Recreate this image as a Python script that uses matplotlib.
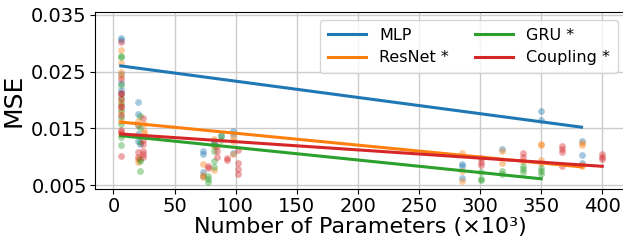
import numpy as np
import matplotlib.pyplot as plt

models = ["MLP", "ResNet *", "GRU *", "Coupling *"]
colors = ["tab:blue", "tab:orange", "tab:green", "tab:red"]

# scatter points (x in thousands of parameters, y = MSE)
mlp_x = [6, 6, 6, 6, 6, 6, 20, 20, 20, 20, 20, 22, 73, 73, 73, 73, 82, 82, 88,
         98, 98, 98, 285, 285, 285, 318, 350, 350, 383, 383, 383]
mlp_y = [0.0310, 0.0306, 0.0245, 0.0229, 0.0218, 0.0212, 0.0196, 0.0175, 0.0155,
         0.0140, 0.0128, 0.0122, 0.0110, 0.0105, 0.0073, 0.0066, 0.0128, 0.0124,
         0.0136, 0.0146, 0.0140, 0.0106, 0.0087, 0.0083, 0.0062, 0.0113, 0.0180,
         0.0164, 0.0127, 0.0103, 0.0088]

resnet_x = [6, 6, 6, 6, 6, 6, 6, 6, 20, 20, 20, 20, 25, 25, 25, 73, 73, 73, 82, 82,
            82, 98, 98, 98, 285, 285, 285, 318, 318, 335, 350, 350, 350, 350,
            383, 383, 383, 383]
resnet_y = [0.0288, 0.0265, 0.0250, 0.0243, 0.0196, 0.0178, 0.0162, 0.0140,
            0.0162, 0.0155, 0.0096, 0.0090, 0.0158, 0.0145, 0.0140, 0.0087,
            0.0068, 0.0064, 0.0131, 0.0118, 0.0077, 0.0134, 0.0128, 0.0105,
            0.0106, 0.0075, 0.0057, 0.0110, 0.0089, 0.0092, 0.0123, 0.0121,
            0.0094, 0.0088, 0.0124, 0.0120, 0.0086, 0.0083]

gru_x = [6, 6, 6, 6, 6, 6, 6, 6, 6, 6, 22, 22, 22, 22, 22, 22, 77, 77, 77, 82, 82,
         82, 82, 88, 88, 301, 301, 301, 318, 318, 335, 335, 335, 350, 350, 350]
gru_y = [0.0278, 0.0275, 0.0226, 0.0204, 0.0193, 0.0183, 0.0170, 0.0157, 0.0134,
         0.0120, 0.0171, 0.0150, 0.0125, 0.0096, 0.0093, 0.0075, 0.0066, 0.0060,
         0.0055, 0.0120, 0.0110, 0.0093, 0.0082, 0.0138, 0.0130, 0.0073, 0.0060,
         0.0058, 0.0074, 0.0069, 0.0084, 0.0078, 0.0073, 0.0080, 0.0075, 0.0070]

coupling_x = [6, 6, 6, 6, 6, 6, 6, 6, 6, 6, 6, 24, 24, 24, 24, 24, 24, 20, 20, 77,
              77, 85, 85, 85, 93, 93, 102, 102, 102, 102, 301, 301, 301, 335, 335,
              367, 367, 367, 367, 400, 400, 400]
coupling_y = [0.0302, 0.0237, 0.0213, 0.0210, 0.0201, 0.0190, 0.0187, 0.0173,
              0.0147, 0.0143, 0.0102, 0.0168, 0.0130, 0.0122, 0.0110, 0.0105,
              0.0100, 0.0108, 0.0100, 0.0083, 0.0080, 0.0118, 0.0110, 0.0100,
              0.0098, 0.0095, 0.0111, 0.0088, 0.0078, 0.0069, 0.0097, 0.0091,
              0.0085, 0.0106, 0.0100, 0.0118, 0.0113, 0.0108, 0.0083, 0.0104,
              0.0099, 0.0096]

# trend line end points
fit_x0 = [6, 6, 6, 6]
fit_x1 = [383, 383, 350, 400]
fit_y0 = [0.0260, 0.0161, 0.0137, 0.0140]
fit_y1 = [0.0152, 0.0082, 0.0061, 0.0083]

xs = [mlp_x, resnet_x, gru_x, coupling_x]
ys = [mlp_y, resnet_y, gru_y, coupling_y]

fig = plt.figure(figsize=(6.23, 2.41), dpi=100)
ax = fig.add_axes([94.5 / 623, 1 - 189 / 241, 531 / 623, 177 / 241])

for i in range(4):
    ax.scatter(xs[i], ys[i], s=24, color=colors[i], alpha=0.4, linewidths=0, zorder=2)
for i in range(4):
    ax.plot([fit_x0[i], fit_x1[i]], [fit_y0[i], fit_y1[i]], color=colors[i],
            lw=2.2, label=models[i], zorder=3)

ax.set_xlim(-15.5, 419)
ax.set_ylim(0.0043, 0.0355)
ax.set_xticks(np.arange(0, 401, 50))
ax.set_yticks([0.005, 0.015, 0.025, 0.035])
ax.grid(True, color="#cccccc", lw=1, zorder=0)
ax.set_axisbelow(True)
ax.tick_params(labelsize=14, pad=2)
ax.set_xlabel("Number of Parameters (×10³)", fontsize=16, labelpad=1)
ax.set_ylabel("MSE", fontsize=18, labelpad=4)
ax.legend(ncol=2, fontsize=11.5, loc="upper right", handlelength=2.4,
          columnspacing=1.6, labelspacing=0.45, borderpad=0.5)

fig.savefig("out.png", dpi=100)
